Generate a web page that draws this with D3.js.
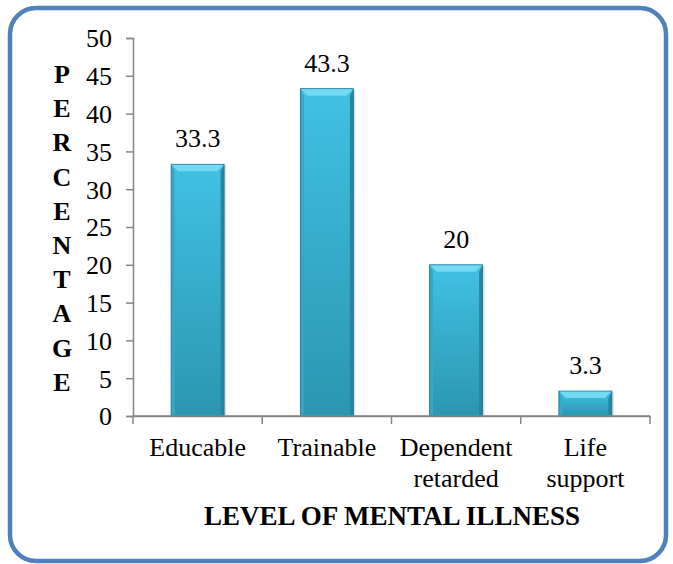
<!DOCTYPE html>
<html>
<meta http-equiv="content-type" content="text/html; charset=utf-8" />
<head>
    <title>Level of mental illness</title>
</head>
<style>
body { margin: 0; background: #fff; }
.axis path, .axis line { stroke: #868686; stroke-width: 1.5; fill: none; }
</style>
<body>
<svg class="chart"></svg>
<script src="https://d3js.org/d3.v7.min.js"></script>
<script type="text/javascript">
  var categories = [["Educable"], ["Trainable"], ["Dependent", "retarded"], ["Life", "support"]];
  var values = [33.3, 43.3, 20, 3.3];
  var yTicks = [0, 5, 10, 15, 20, 25, 30, 35, 40, 45, 50];
  var yTitle = "PERCENTAGE";
  var xTitle = "LEVEL OF MENTAL ILLNESS";

  var FONT = "Liberation Serif";
  var W = 673, H = 564;
  var margin = {top: 38, left: 133, right: 23, bottom: 148},
      width = W - margin.left - margin.right,
      height = H - margin.top - margin.bottom;

  var svg = d3.select(".chart").attr("width", W).attr("height", H);

  // outer rounded frame
  svg.append("rect")
    .attr("x", 10).attr("y", 8).attr("width", 656).attr("height", 553)
    .attr("rx", 26).attr("ry", 26)
    .attr("fill", "#fff").attr("stroke", "#4f81bd").attr("stroke-width", 4.5);

  var defs = svg.append("defs");
  var grad = defs.append("linearGradient").attr("id", "barGrad")
    .attr("x1", 0).attr("y1", 0).attr("x2", 0).attr("y2", 1);
  grad.append("stop").attr("offset", "0%").attr("stop-color", "#41c1e3");
  grad.append("stop").attr("offset", "100%").attr("stop-color", "#2b96b1");

  var chart = svg.append("g")
    .attr("transform", "translate(" + margin.left + "," + margin.top + ")");

  var names = categories.map(function(c) { return c.join(" "); });
  var xScale = d3.scaleBand().domain(names).range([0, width]).paddingInner(0).paddingOuter(0);
  var yScale = d3.scaleLinear().domain([0, 50]).range([height, 0]);

  var yAxis = d3.axisLeft(yScale).tickValues(yTicks).tickSize(7).tickPadding(14);
  var gy = chart.append("g").attr("class", "y axis").call(yAxis)
    .attr("font-family", FONT).attr("font-size", 26);
  gy.selectAll("text").attr("dy", "0.34em").attr("fill", "#000");

  var gx = chart.append("g").attr("class", "x axis")
    .attr("transform", "translate(0," + height + ")")
    .call(d3.axisBottom(xScale).tickSize(0).tickSizeOuter(0).tickFormat(""));
  // ticks on band boundaries
  var bounds = names.map(function(n) { return xScale(n); }).concat([width]);
  gx.selectAll(".bound").data(bounds).enter().append("line")
    .attr("x1", function(d) { return d; }).attr("x2", function(d) { return d; })
    .attr("y1", 0).attr("y2", 8);

  // category labels
  var catG = chart.append("g");
  categories.forEach(function(lines, i) {
    var cx = xScale(names[i]) + xScale.bandwidth() / 2;
    var t = catG.append("text")
      .attr("x", cx)
      .attr("y", height + 40)
      .attr("text-anchor", "middle")
      .attr("font-family", FONT)
      .attr("font-size", 26);
    lines.forEach(function(l, j) {
      t.append("tspan").attr("x", cx).attr("dy", j === 0 ? 0 : 31).text(l);
    });
  });

  // bars
  var bw = 53;
  var bar = chart.selectAll(".bar").data(values).enter().append("g")
    .attr("transform", function(d, i) {
      return "translate(" + (xScale(names[i]) + xScale.bandwidth() / 2 - bw / 2) + ",0)";
    });

  bar.append("rect")
    .attr("x", 2).attr("y", function(d) { return yScale(d) + 1; })
    .attr("width", bw).attr("height", function(d) { return height - yScale(d); })
    .attr("fill", "#000").attr("opacity", 0.12);
  bar.append("rect")
    .attr("y", function(d) { return yScale(d); })
    .attr("width", bw).attr("height", function(d) { return height - yScale(d); })
    .attr("fill", "url(#barGrad)");
  var bev = 7;
  // top bevel
  bar.append("polygon")
    .attr("points", function(d) {
      var y = yScale(d);
      return [[0, y], [bw, y], [bw - bev, y + bev], [bev, y + bev]].join(" ");
    })
    .attr("fill", "#74d9f2");
  // left bevel
  bar.append("polygon")
    .attr("points", function(d) {
      var y = yScale(d);
      return [[0, y], [bev * 0.5, y + bev], [bev * 0.5, height - 2], [0, height]].join(" ");
    })
    .attr("fill", "#35a9c8");
  // right bevel
  bar.append("polygon")
    .attr("points", function(d) {
      var y = yScale(d);
      return [[bw, y], [bw - bev * 0.5, y + bev], [bw - bev * 0.5, height - 2], [bw, height]].join(" ");
    })
    .attr("fill", "#2486a0");
  bar.append("rect")
    .attr("y", function(d) { return yScale(d); })
    .attr("width", bw).attr("height", function(d) { return height - yScale(d); })
    .attr("fill", "none").attr("stroke", "#1f7890").attr("stroke-width", 0.8);

  // value labels
  bar.append("text")
    .attr("x", bw / 2)
    .attr("y", function(d) { return yScale(d) - 17; })
    .attr("text-anchor", "middle")
    .attr("font-family", FONT)
    .attr("font-size", 26)
    .text(function(d) { return d; });

  // redraw baseline above bars
  chart.append("line").attr("x1", 0).attr("x2", width)
    .attr("y1", height).attr("y2", height)
    .attr("stroke", "#868686").attr("stroke-width", 1.5);

  // vertical stacked y title
  var letters = yTitle.split("");
  svg.append("g").selectAll("text").data(letters).enter().append("text")
    .attr("x", 62)
    .attr("y", function(d, i) { return 83 + i * 34.2; })
    .attr("text-anchor", "middle")
    .attr("font-family", FONT)
    .attr("font-size", 26).attr("font-weight", "bold")
    .text(function(d) { return d; });

  svg.append("text")
    .attr("x", 392).attr("y", 525)
    .attr("text-anchor", "middle")
    .attr("font-family", FONT)
    .attr("font-size", 27).attr("font-weight", "bold")
    .text(xTitle);
</script>
</body>
</html>
